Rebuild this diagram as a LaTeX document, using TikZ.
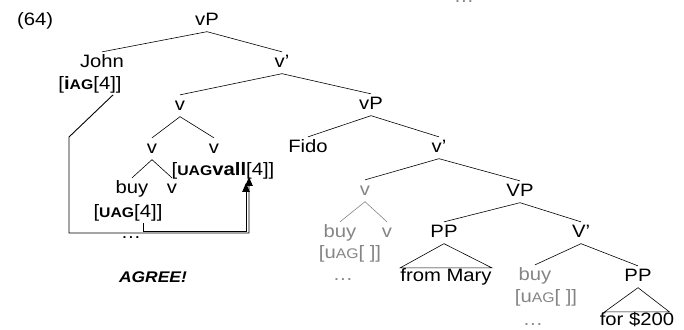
\documentclass[tikz,border=0pt]{standalone}
\usepackage{fontspec}
\setmainfont{Liberation Sans}[FakeStretch=1.13]
\usetikzlibrary{arrows.meta}
\definecolor{fadegray}{gray}{0.52}
\newcommand{\smag}{{\fontsize{14}{14}\selectfont AG}}
\newcommand{\smuag}{{\fontsize{14}{14}\selectfont UAG}}

\begin{document}
\begin{tikzpicture}[x=1bp, y=-1bp,
  every node/.style={font=\fontsize{18}{20}\selectfont},
  cat/.style={inner sep=2.5pt, text height=12.5pt, text depth=4pt, anchor=base},
  feat/.style={inner sep=2pt, anchor=base},
  faded/.style={text=fadegray},
  roof/.style={inner sep=0pt, text height=13pt, anchor=base},
  branch/.style={line width=0.6pt},
  fadebranch/.style={branch, draw=fadegray},
  agree/.style={line width=0.9pt, -{Triangle[length=9pt,width=7.5pt]}}]
\useasboundingbox (0,0) rectangle (684,329);

% Example number
\node[anchor=base west, inner sep=0pt] (exnum) at (17,25) {(64)};
\node[cat, faded] (topdots) at (464,2.5) {\dots};

% Upper shell
\node[cat] (vPa) at (207,25) {vP};
\node[cat] (john) at (102,67) {John};
\node[feat] (johnf) at (90,89) {[\textbf{i\smag}[4]]};
\node[cat] (vbara) at (282,67) {v’};
\node[cat] (vcx) at (180,110) {v};
\node[cat] (vcomp) at (152,153) {v};
\node[cat] (vhead) at (214,153) {v};
\node[feat] (valf) at (223,175) {[\textbf{\smuag vall}[4]]};
\node[cat] (buy) at (132,193) {buy};
\node[cat] (vaff) at (172,193) {v};
\node[feat] (buyf) at (128,217) {[\textbf{\smuag}[4]]};
\node[cat] (buydots) at (131,238) {\dots};
\node[anchor=base, font=\fontsize{15.5}{16}\selectfont\bfseries\itshape] (agreelbl) at (153,282) {AGREE!};

% Lower shell
\node[cat] (vPb) at (371,109) {vP};
\node[cat] (fido) at (308,152) {Fido};
\node[cat] (vbarb) at (439,152) {v’};
\node[cat, faded] (vlow) at (365,195) {v};
\node[cat] (VP) at (520,196) {VP};
\node[cat, faded] (buylow) at (340,237) {buy};
\node[cat, faded] (vafflow) at (387,237) {v};
\node[feat, faded] (buylowf) at (350,258) {[u\smag[ ]]};
\node[cat, faded] (lowdots) at (343,280) {\dots};
\node[cat] (PPa) at (444,237) {PP};
\node[cat] (Vbar) at (581,237) {V’};
\node[roof] (mary) at (446,281) {from Mary};
\node[cat, faded] (buyV) at (535,280) {buy};
\node[feat, faded] (buyVf) at (546,302) {[u\smag[ ]]};
\node[cat, faded] (Vdots) at (533,325) {\dots};
\node[cat] (PPb) at (638,281) {PP};
\node[roof] (dollars) at (637,325) {for \$200};

% Branches
\foreach \p/\c in {vPa/john, vPa/vbara, vbara/vcx, vbara/vPb, vcx/vcomp, vcx/vhead,
                   vcomp/buy, vcomp/vaff, vPb/fido, vPb/vbarb, vbarb/vlow, vbarb/VP,
                   VP/PPa, VP/Vbar, Vbar/buyV, Vbar/PPb}
  \draw[branch] (\p.south) -- (\c.north);
\foreach \c in {buylow, vafflow}
  \draw[fadebranch] (vlow.south) -- (\c.north);

% Roofs
\draw[branch] (PPa.south) -- (mary.north east) -- (mary.north west) -- cycle;
\draw[branch] (PPb.south) -- ([xshift=-5bp]dollars.north east) -- ([xshift=5bp]dollars.north west) -- cycle;

% Agree lines
\coordinate (bendJ) at (69,137);
\coordinate (floorJ) at (249,233);
\coordinate (tipJ) at (249,177);
\coordinate (floorB) at (246,231);
\coordinate (tipB) at (246,183);
\draw[agree] ([xshift=23bp]johnf.south) -- (bendJ) |- (floorJ) -- (tipJ);
\draw[agree] ([xshift=15bp]buyf.south) |- (floorB) -- (tipB);
\end{tikzpicture}
\end{document}
